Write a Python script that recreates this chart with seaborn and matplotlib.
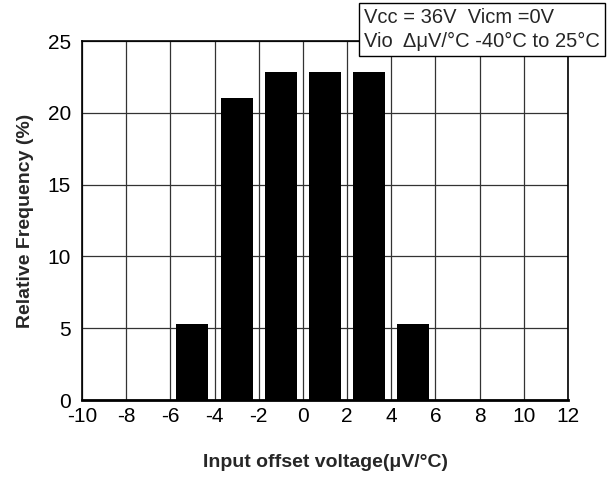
import pandas as pd
import matplotlib.pyplot as plt
import seaborn as sns

# 数据：各区间中心与相对频率 (%)
bin_centers = [-5, -3, -1, 1, 3, 5]
rel_freq = [5.26, 21.05, 22.81, 22.81, 22.81, 5.26]
x_ticks = list(range(-10, 13, 2))
y_ticks = [0, 5, 10, 15, 20, 25]

sns.set_theme(style="white")
plt.rcParams['font.family'] = ['Liberation Sans', 'DejaVu Sans']
plt.rcParams['axes.unicode_minus'] = False

df = pd.DataFrame({"center": bin_centers, "freq": rel_freq})

fig = plt.figure(figsize=(6.14, 4.79), dpi=100)
ax = fig.add_axes([0.1336, 0.1649, 0.7915, 0.7495])

ax.grid(True, color="#333333", linewidth=0.9)
ax.set_axisbelow(True)
sns.barplot(data=df, x="center", y="freq", native_scale=True, width=0.725,
            color="black", edgecolor="black", linewidth=0, saturation=1, ax=ax)

ax.set_xlim(-10, 12)
ax.set_ylim(0, 25)
ax.set_xticks(x_ticks)
ax.set_yticks(y_ticks)
ax.tick_params(axis="x", labelsize=15, length=0, pad=5, colors="black")
ax.tick_params(axis="y", labelsize=15, length=0, pad=8, colors="black")
for s in ax.spines.values():
    s.set_color("black")
    s.set_linewidth(1.2)
ax.spines["bottom"].set_linewidth(2)

ax.set_xlabel("Input offset voltage(μV/°C)", fontsize=14, fontweight="bold", labelpad=20)
ax.set_ylabel("Relative Frequency (%)", fontsize=14, fontweight="bold", labelpad=10)

fig.text(364 / 614, 1 - 8 / 479, "Vcc = 36V  Vicm =0V\nVio  ΔμV/°C -40°C to 25°C",
         fontsize=14.5, linespacing=1.3, va="top", ha="left",
         bbox=dict(boxstyle="square,pad=0.25", fc="white", ec="black", lw=1))

fig.savefig("out.png", dpi=100)
